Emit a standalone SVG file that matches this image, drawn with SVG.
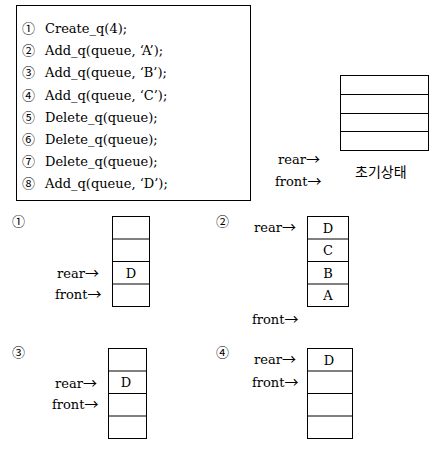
<svg xmlns="http://www.w3.org/2000/svg" width="442" height="454" viewBox="0 0 442 454">
<style>
.bg{fill:#fff}
.box{fill:#fff;stroke:#000;stroke-width:1}
.div{stroke:#000;stroke-width:1}
.t{font-family:"DejaVu Serif","Liberation Serif","Noto Sans CJK KR",serif;font-size:13px;fill:#000}
.n{font-family:"Noto Sans CJK KR","Noto Sans CJK JP",sans-serif;font-size:13px;fill:#000}
.a{font-family:"Noto Sans CJK KR","Noto Sans CJK JP",sans-serif;font-size:14px;fill:#000}
.c{text-anchor:middle}
.k{font-family:"Noto Sans CJK KR","DejaVu Sans",sans-serif;font-size:14px;fill:#000}
</style>
<rect class="bg" x="0" y="0" width="442" height="454"/>
<g id="code">
<rect class="box" x="16.5" y="5.5" width="234" height="195"/>
<text class="n" x="22" y="33">①</text><text class="t" x="45" y="33">Create_q(4);</text>
<text class="n" x="22" y="55.2">②</text><text class="t" x="45" y="55.2">Add_q(queue, ‘A’);</text>
<text class="n" x="22" y="77.4">③</text><text class="t" x="45" y="77.4">Add_q(queue, ‘B’);</text>
<text class="n" x="22" y="99.6">④</text><text class="t" x="45" y="99.6">Add_q(queue, ‘C’);</text>
<text class="n" x="22" y="121.8">⑤</text><text class="t" x="45" y="121.8">Delete_q(queue);</text>
<text class="n" x="22" y="144">⑥</text><text class="t" x="45" y="144">Delete_q(queue);</text>
<text class="n" x="22" y="166.2">⑦</text><text class="t" x="45" y="166.2">Delete_q(queue);</text>
<text class="n" x="22" y="188.4">⑧</text><text class="t" x="45" y="188.4">Add_q(queue, ‘D’);</text>
</g>
<g id="init">
<rect class="box" x="340.5" y="75.5" width="88" height="75"/>
<line class="div" x1="340.5" y1="94.5" x2="428.5" y2="94.5"/>
<line class="div" x1="340.5" y1="113.5" x2="428.5" y2="113.5"/>
<line class="div" x1="340.5" y1="131.5" x2="428.5" y2="131.5"/>
<text class="k" x="355" y="177">초기상태</text>
<text class="t" x="278" y="164">rear<tspan class="a">→</tspan></text>
<text class="t" x="275" y="186">front<tspan class="a">→</tspan></text>
</g>
<g id="step1">
<text class="n" x="12" y="226">①</text>
<rect class="box" x="112.5" y="216.5" width="37" height="90"/>
<line class="div" x1="112.5" y1="239" x2="149.5" y2="239"/>
<line class="div" x1="112.5" y1="261.5" x2="149.5" y2="261.5"/>
<line class="div" x1="112.5" y1="284" x2="149.5" y2="284"/>
<text class="t c" x="131" y="277.5">D</text>
<text class="t" x="57" y="277.5">rear<tspan class="a">→</tspan></text>
<text class="t" x="55" y="298.5">front<tspan class="a">→</tspan></text>
</g>
<g id="step2">
<text class="n" x="216" y="226">②</text>
<rect class="box" x="307.5" y="216.5" width="41" height="90"/>
<line class="div" x1="307.5" y1="239" x2="348.5" y2="239"/>
<line class="div" x1="307.5" y1="261.5" x2="348.5" y2="261.5"/>
<line class="div" x1="307.5" y1="284" x2="348.5" y2="284"/>
<text class="t c" x="328" y="232.5">D</text>
<text class="t c" x="328" y="255">C</text>
<text class="t c" x="328" y="277.5">B</text>
<text class="t c" x="328" y="300">A</text>
<text class="t" x="254" y="231.5">rear<tspan class="a">→</tspan></text>
<text class="t" x="252" y="323.5">front<tspan class="a">→</tspan></text>
</g>
<g id="step3">
<text class="n" x="12" y="357">③</text>
<rect class="box" x="108.5" y="348.5" width="38" height="90"/>
<line class="div" x1="108.5" y1="371" x2="146.5" y2="371"/>
<line class="div" x1="108.5" y1="393.5" x2="146.5" y2="393.5"/>
<line class="div" x1="108.5" y1="416" x2="146.5" y2="416"/>
<text class="t c" x="126" y="387">D</text>
<text class="t" x="55" y="387.5">rear<tspan class="a">→</tspan></text>
<text class="t" x="52" y="408.5">front<tspan class="a">→</tspan></text>
</g>
<g id="step4">
<text class="n" x="216" y="357">④</text>
<rect class="box" x="307.5" y="348.5" width="45" height="90"/>
<line class="div" x1="307.5" y1="371" x2="352.5" y2="371"/>
<line class="div" x1="307.5" y1="393.5" x2="352.5" y2="393.5"/>
<line class="div" x1="307.5" y1="416" x2="352.5" y2="416"/>
<text class="t c" x="329" y="364.5">D</text>
<text class="t" x="254" y="363.5">rear<tspan class="a">→</tspan></text>
<text class="t" x="252" y="386.5">front<tspan class="a">→</tspan></text>
</g>
<g id="connectors"></g>
</svg>
